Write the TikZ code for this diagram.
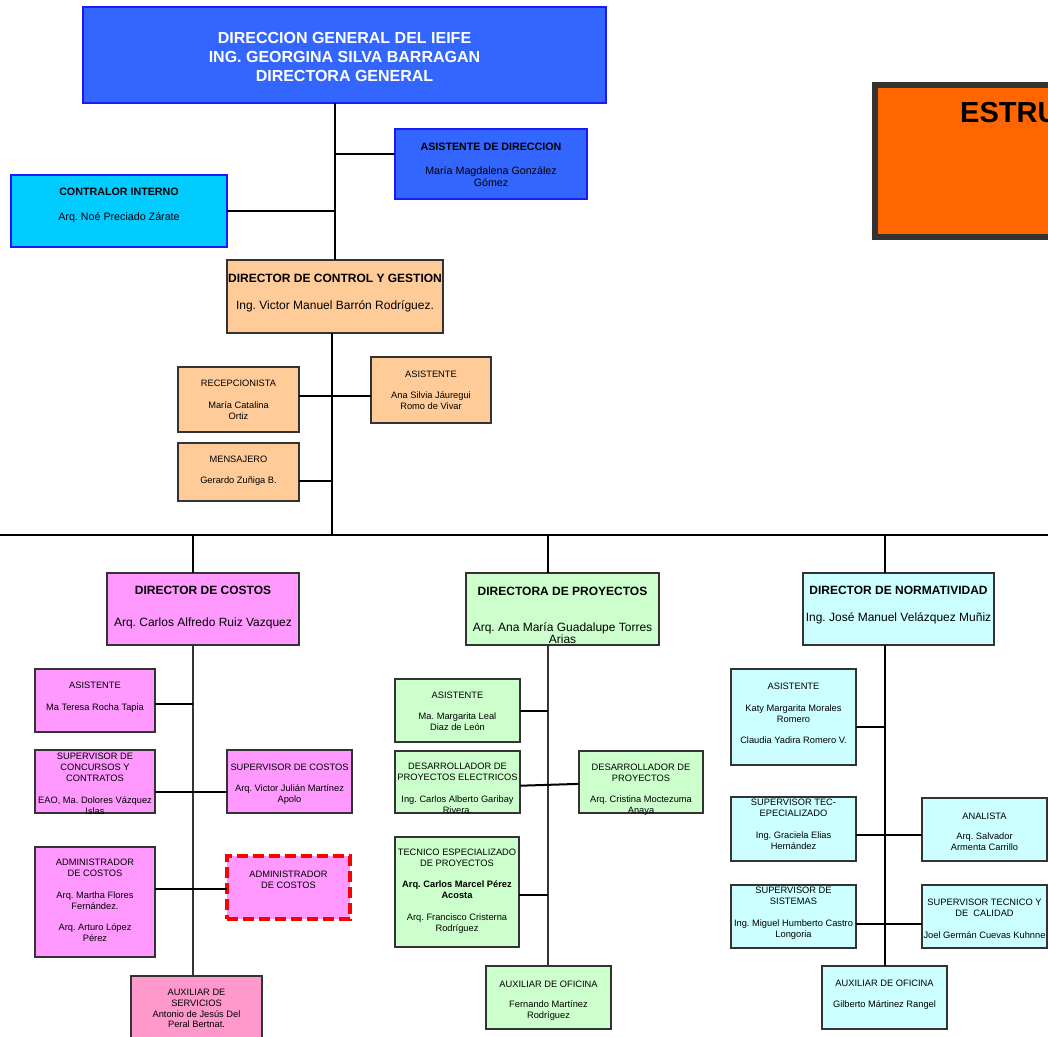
\documentclass[tikz,border=0pt]{standalone}
\usepackage{fontspec}
\setmainfont{Liberation Sans}
\AtBeginDocument{\frenchspacing}
\usetikzlibrary{calc}
\definecolor{topblue}{HTML}{3366FF}
\definecolor{topedge}{HTML}{1A1AFF}
\definecolor{ciblue}{HTML}{00CCFF}
\definecolor{peach}{HTML}{FFCC99}
\definecolor{pinkc}{HTML}{FF99FF}
\definecolor{auxpink}{HTML}{FF99CC}
\definecolor{greenc}{HTML}{CCFFCC}
\definecolor{cyanc}{HTML}{CCFFFF}
\definecolor{orangec}{HTML}{FF6600}
\definecolor{edgegray}{HTML}{333333}
\newcommand\fsS{\fontsize{9.3}{11}\selectfont\frenchspacing}
\newcommand\fsM{\fontsize{10.7}{12}\selectfont\frenchspacing}
\newcommand\fsL{\fontsize{12}{13}\selectfont\frenchspacing}
\newcommand\fsX{\fontsize{16}{19}\selectfont\bfseries\frenchspacing}
\tikzset{
  box/.style={draw=edgegray,line width=1.2pt,inner sep=0pt,outer sep=0pt},
  bluebox/.style={draw=topedge,line width=1.8pt,fill=topblue,inner sep=0pt,outer sep=0pt},
  txt/.style={align=center,inner sep=0pt,font=\fsS},
  con/.style={line width=2pt,black},
  barline/.style={line width=2.8pt,black},
  spine/.style={line width=2.4pt,edgegray},
  dashbox/.style={draw=red,line width=3.6pt,dash pattern=on 11pt off 5pt,fill=pinkc,inner sep=0pt,outer sep=0pt}
}
% name, x1, y1, x2, y2, box style, text style, text centre y, text
\newcommand\obox[9]{%
  \node[#6,minimum width={(#4-#2)*1pt},minimum height={(#5-#3)*1pt}] (#1) at ({(#2+#4)/2},{(#3+#5)/2}) {};
  \node[txt,#7] (#1-t) at ({(#2+#4)/2},#8) {#9};
}
\begin{document}
\begin{tikzpicture}[x=1pt,y=-1pt]
\useasboundingbox (0,0) rectangle (1048,1036);
\fill[white] (0,0) rectangle (1048,1036);

% big orange box
\node[draw=edgegray,line width=6pt,fill=orangec,minimum width=230pt,minimum height=152pt,inner sep=0pt,outer sep=0pt] (ob) at (990,161) {};
\node[anchor=base west,inner sep=0pt,font=\fontsize{29}{30}\selectfont\bfseries] (obt) at (960,122) {ESTRU};

% top level
\obox{top}{83}{7}{606}{103}{bluebox}{font=\fsX,text=white}{57}{DIRECCION GENERAL DEL IEIFE\\ING. GEORGINA SILVA BARRAGAN\\DIRECTORA GENERAL}
\obox{asd}{395}{129}{587}{199}{bluebox,line width=1.4pt}{font=\fsM}{165}{{\bfseries ASISTENTE DE DIRECCION}\\[12pt]María Magdalena González\\Gómez}
\obox{ci}{11}{175}{227}{247}{box,draw=topedge,line width=1.4pt,fill=ciblue}{font=\fsM}{205.5}{{\bfseries CONTRALOR INTERNO}\\[13pt]Arq. Noé Preciado Zárate}
\obox{dcg}{227}{260}{443}{333}{box,fill=peach}{font=\fsL}{293.5}{{\bfseries DIRECTOR DE CONTROL Y GESTION}\\[14pt]Ing. Victor Manuel Barrón Rodríguez.}
\obox{rec}{178}{367}{299}{432}{box,fill=peach}{}{400}{RECEPCIONISTA\\[11pt]María Catalina\\Ortiz}
\obox{asi1}{371}{357}{491}{423}{box,fill=peach}{}{390.5}{ASISTENTE\\[10pt]Ana Silvia Jáuregui\\Romo de Vivar}
\obox{men}{178}{443}{299}{501}{box,fill=peach}{}{471}{MENSAJERO\\[10pt]Gerardo Zuñiga B.}

% directors
\obox{dc}{107}{573}{299}{645}{box,fill=pinkc}{font=\fsL}{608}{{\bfseries DIRECTOR DE COSTOS}\\[19pt]Arq. Carlos Alfredo Ruiz Vazquez}
\obox{dp}{466}{573}{659}{645}{box,fill=greenc}{font=\fsL}{615}{{\bfseries DIRECTORA DE PROYECTOS}\\[23pt]Arq. Ana María Guadalupe Torres\\[-1pt]Arias}
\obox{dn}{803}{573}{994}{645}{box,fill=cyanc}{font=\fsL}{605.5}{{\bfseries DIRECTOR DE NORMATIVIDAD}\\[14pt]Ing. José Manuel Velázquez Muñiz}

% costos column
\obox{asc}{35}{669}{155}{732}{box,fill=pinkc}{}{697.5}{ASISTENTE\\[11pt]Ma Teresa Rocha Tapia}
\obox{supcon}{35}{750}{155}{813}{box,fill=pinkc}{}{784}{SUPERVISOR DE\\CONCURSOS Y\\CONTRATOS\\[11pt]EAO, Ma. Dolores Vázquez\\Islas}
\obox{supcos}{227}{750}{352}{813}{box,fill=pinkc}{}{784.5}{SUPERVISOR DE COSTOS\\[10pt]Arq. Victor Julián Martínez\\Apolo}
\obox{admc}{35}{847}{155}{957}{box,fill=pinkc}{}{900.5}{ADMINISTRADOR\\DE COSTOS\\[11pt]Arq. Martha Flores\\Fernández.\\[10pt]Arq. Arturo López\\Pérez}
\obox{admd}{227}{856}{350}{919}{dashbox}{}{880}{ADMINISTRADOR\\DE COSTOS}
\obox{auxs}{131}{976}{262}{1045}{box,fill=auxpink}{font=\fontsize{9.3}{10.7}\selectfont}{1008.5}{AUXILIAR DE\\SERVICIOS\\Antonio de Jesús Del\\Peral Bertnat.}

% proyectos column
\obox{asp}{395}{679}{520}{742}{box,fill=greenc}{}{711.5}{ASISTENTE\\[10pt]Ma. Margarita Leal\\Diaz de León}
\obox{dpe}{395}{751}{520}{813}{box,fill=greenc}{}{788}{DESARROLLADOR DE\\PROYECTOS ELECTRICOS\\[11pt]Ing. Carlos Alberto Garibay\\Rivera.}
\obox{dpp}{579}{751}{703}{813}{box,fill=greenc}{}{790}{DESARROLLADOR DE\\PROYECTOS\\[10pt]Arq. Cristina Moctezuma\\Anaya}
\obox{tec}{395}{837}{519}{947}{box,fill=greenc}{}{891}{TECNICO ESPECIALIZADO\\DE PROYECTOS\\[10pt]{\bfseries Arq. Carlos Marcel Pérez}\\{\bfseries Acosta}\\[11pt]Arq. Francisco Cristerna\\Rodríguez}
\obox{auxp}{486}{966}{611}{1029}{box,fill=greenc}{}{1000.5}{AUXILIAR DE OFICINA\\[9pt]Fernando Martínez\\Rodríguez}

% normatividad column
\obox{asn}{731}{669}{856}{765}{box,fill=cyanc}{}{713.5}{ASISTENTE\\[11pt]Katy Margarita Morales\\Romero\\[10pt]Claudia Yadira Romero V.}
\obox{stec}{731}{797}{856}{861}{box,fill=cyanc}{}{824.5}{SUPERVISOR TEC-\\EPECIALIZADO\\[11pt]Ing. Graciela Elias\\Hernández}
\obox{ana}{922}{798}{1047}{861}{box,fill=cyanc}{}{831.5}{ANALISTA\\[9pt]Arq. Salvador\\Armenta Carrillo}
\obox{ssis}{731}{885}{856}{948}{box,fill=cyanc}{}{913.5}{SUPERVISOR DE\\SISTEMAS\\[11pt]Ing. Miguel Humberto Castro\\Longoria}
\obox{scal}{922}{885}{1047}{948}{box,fill=cyanc}{}{919}{SUPERVISOR TECNICO Y\\DE~~CALIDAD\\[11pt]Joel Germán Cuevas Kuhnne}
\obox{auxn}{822}{966}{947}{1029}{box,fill=cyanc}{}{995}{AUXILIAR DE OFICINA\\[10pt]Gilberto Mártinez Rangel}

% connectors: top part
\coordinate (barL) at (0,535);
\coordinate (barR) at (1048,535);
\draw[con,line width=2.4pt] (dcg.north) -- (dcg.north |- top.south);
\path ($(asd.north west)!0.357!(asd.south west)$) coordinate (a1);
\draw[con] (a1) -- (a1 -| dcg.north);
\draw[con] (ci.east) -- (ci.east -| dcg.north);
\path ($(dcg.south west)!0.486!(dcg.south east)$) coordinate (sD);
\draw[con,line width=2.4pt] (sD) -- (sD |- barL);
\path ($(rec.north east)!0.446!(rec.south east)$) coordinate (r1);
\draw[con] (r1) -- (r1 -| asi1.west);
\path ($(men.north east)!0.655!(men.south east)$) coordinate (m1);
\draw[con] (m1) -- (m1 -| sD);
\draw[barline] (barL) -- (barR);

% spines
\path ($(dc.north west)!0.448!(dc.north east)$) coordinate (sC);
\path ($(dp.north west)!0.425!(dp.north east)$) coordinate (sP);
\path ($(dn.north west)!0.429!(dn.north east)$) coordinate (sN);
\draw[con,line width=1.6pt] (sC |- barL) -- (sC);
\draw[con,line width=1.6pt] (sP |- barL) -- (sP);
\draw[con,line width=1.6pt] (sN |- barL) -- (sN);
\draw[spine] (sC |- dc.south) -- (sC |- auxs.north);
\draw[spine] (sP |- dp.south) -- (sP |- auxp.north);
\draw[con,line width=2.4pt] (sN |- dn.south) -- (sN |- auxn.north);

% costos branches
\path ($(asc.north east)!0.556!(asc.south east)$) coordinate (c1);
\draw[con] (c1) -- (c1 -| sC);
\path ($(supcon.north east)!0.667!(supcon.south east)$) coordinate (c2);
\draw[con] (c2) -- (c2 -| supcos.west);
\path ($(admc.north east)!0.382!(admc.south east)$) coordinate (c3);
\draw[con] (c3) -- (c3 -| admd.west);

% proyectos branches
\draw[con] (asp.east) -- (asp.east -| sP);
\path ($(dpe.north east)!0.56!(dpe.south east)$) coordinate (p1);
\path ($(dpp.north west)!0.53!(dpp.south west)$) coordinate (p2);
\draw[con] (p1) -- (p2);
\path ($(tec.north east)!0.53!(tec.south east)$) coordinate (p3);
\draw[con] (p3) -- (p3 -| sP);

% normatividad branches
\path ($(asn.north east)!0.6!(asn.south east)$) coordinate (n1);
\draw[con] (n1) -- (n1 -| sN);
\path ($(stec.north east)!0.6!(stec.south east)$) coordinate (n2);
\draw[con] (n2) -- (n2 -| ana.west);
\path ($(ssis.north east)!0.62!(ssis.south east)$) coordinate (n3);
\draw[con] (n3) -- (n3 -| scal.west);
\end{tikzpicture}
\end{document}
